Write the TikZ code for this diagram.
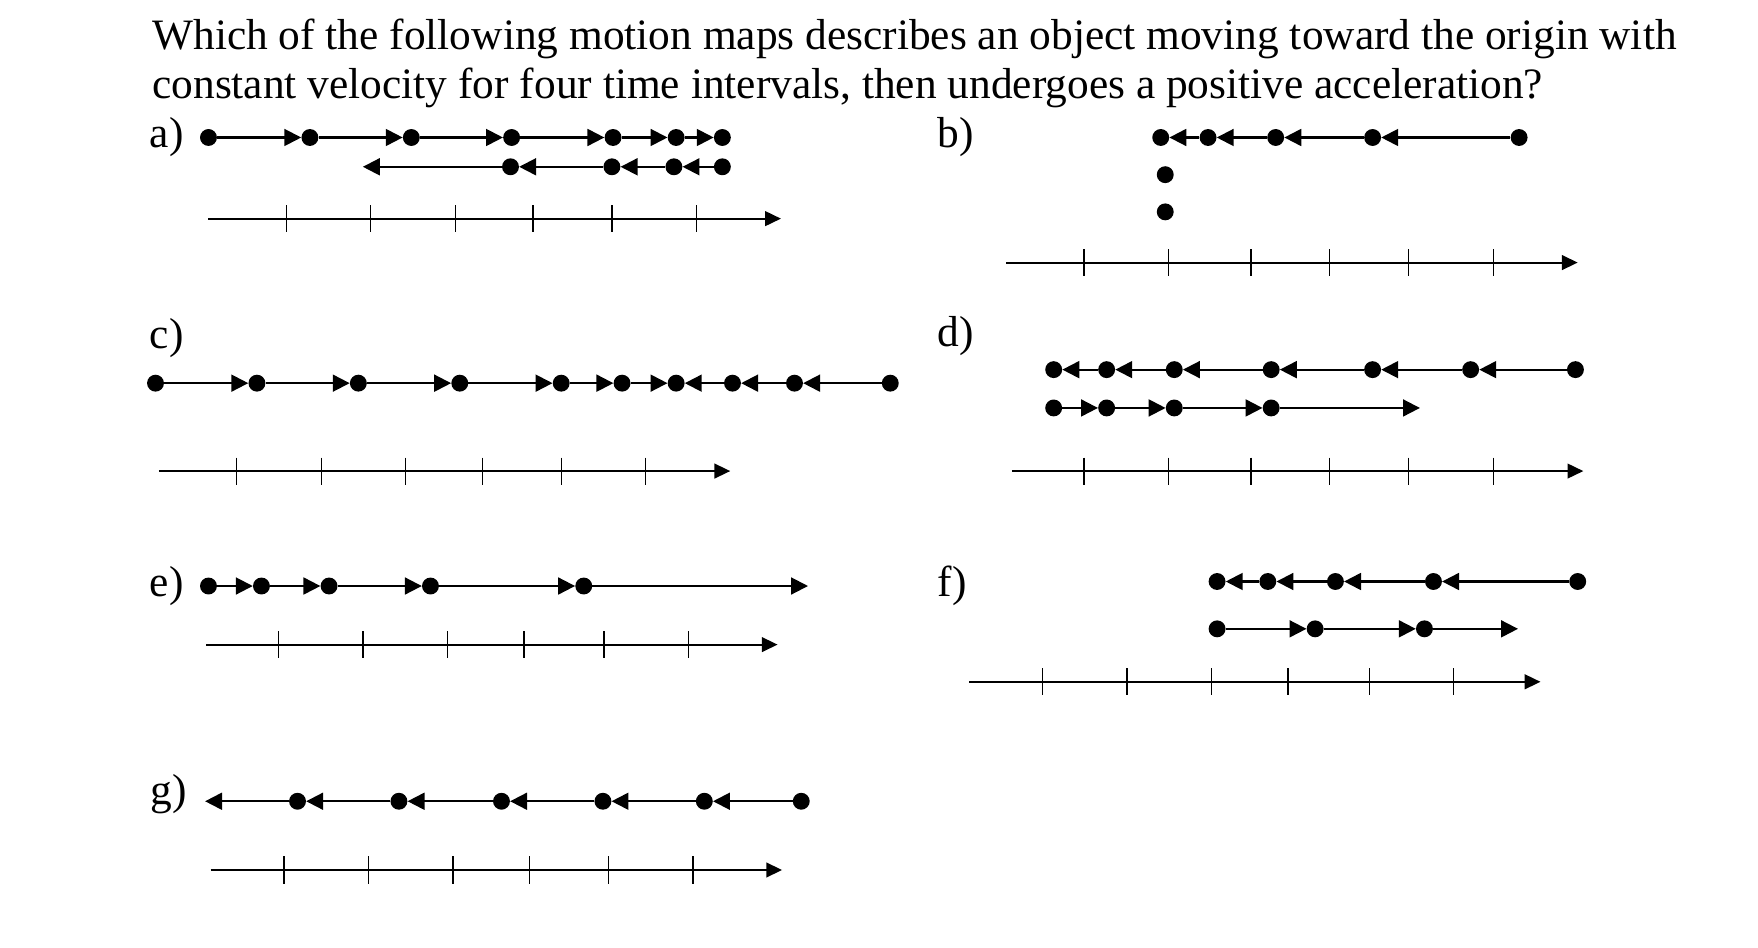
\documentclass[tikz,border=0pt]{standalone}
\usepackage{fontspec}
\setmainfont{Liberation Serif}
\usetikzlibrary{arrows.meta}
\begin{document}
\begin{tikzpicture}[x=1pt,y=-1pt,
  dot/.style={circle,fill=black,inner sep=0pt,minimum size=15pt},
  mv/.style={line width=1.8pt,-{Triangle[length=15pt,width=15pt]}},
  ax/.style={line width=1.8pt,-{Triangle[length=14pt,width=13pt]}},
  lbl/.style={font=\fontsize{38.5}{44}\selectfont,inner sep=0pt}]
\useasboundingbox (0,0) rectangle (1560,841);
\node[lbl,anchor=base west] (t1) at (135,44) {Which of the following motion maps describes an object moving toward the origin with};
\node[lbl,anchor=base west] (t2) at (135,87) {constant velocity for four time intervals, then undergoes a positive acceleration?};
\newcommand{\myaxis}[5]{%
  \coordinate (#1s) at (#3,#2); \coordinate (#1e) at (#4,#2);
  \draw[ax] (#1s) -- (#1e);
  \foreach \t in {#5} \draw[line width=1.2pt] (\t,#2-12) -- (\t,#2+12);}
% a
\node[lbl] (la) at (148,122) {a)};
\foreach \x [count=\i] in {185,275,365,454,544,600,641} \node[dot] (a\i) at (\x,122) {};
\foreach \i/\j in {1/2,2/3,3/4,4/5,5/6,6/7} \draw[mv] (a\i) -- (a\j);
\foreach \x [count=\i] in {453,543,598,641} \node[dot] (aa\i) at (\x,148) {};
\coordinate (aend) at (322,148);
\foreach \i/\j in {4/3,3/2,2/1} \draw[mv] (aa\i) -- (aa\j);
\draw[mv] (aa1) -- (aend);
\myaxis{axa}{194}{185}{693}{254,329,404,473,543,618}
% b
\node[lbl] (lb) at (848,122) {b)};
\foreach \x [count=\i] in {1030,1072,1132,1218,1348} \node[dot] (b\i) at (\x,122) {};
\foreach \i/\j in {5/4,4/3,3/2,2/1} \draw[mv] (b\i) -- (b\j);
\node[dot] (bb1) at (1034,155) {};
\node[dot] (bb2) at (1034,188) {};
\myaxis{axb}{233}{893}{1400}{962,1037,1110,1180,1250,1325}
% c
\node[lbl] (lc) at (148,300) {c)};
\foreach \x [count=\i] in {138,228,318,408,498,552,600,650,705,790} \node[dot] (c\i) at (\x,340) {};
\foreach \i/\j in {1/2,2/3,3/4,4/5,5/6,6/7,10/9,9/8,8/7} \draw[mv] (c\i) -- (c\j);
\myaxis{axc}{418}{141}{648}{210,285,360,428,498,573}
% d
\node[lbl] (ld) at (848,298) {d)};
\foreach \x [count=\i] in {935,982,1042,1128,1218,1305,1398} \node[dot] (d\i) at (\x,328) {};
\foreach \i/\j in {7/6,6/5,5/4,4/3,3/2,2/1} \draw[mv] (d\i) -- (d\j);
\foreach \x [count=\i] in {935,982,1042,1128} \node[dot] (dd\i) at (\x,362) {};
\foreach \i/\j in {1/2,2/3,3/4} \draw[mv] (dd\i) -- (dd\j);
\coordinate (dend) at (1260,362);
\draw[mv] (dd4) -- (dend);
\myaxis{axd}{418}{898}{1405}{962,1037,1110,1180,1250,1325}
% e
\node[lbl] (le) at (148,520) {e)};
\foreach \x [count=\i] in {185,232,292,382,518} \node[dot] (e\i) at (\x,520) {};
\foreach \i/\j in {1/2,2/3,3/4,4/5} \draw[mv] (e\i) -- (e\j);
\coordinate (eend) at (717,520);
\draw[mv] (e5) -- (eend);
\myaxis{axe}{572}{183}{690}{247,322,397,465,536,611}
% f
\node[lbl] (lf) at (845,520) {f)};
\foreach \x [count=\i] in {1080,1125,1185,1272,1400} \node[dot] (f\i) at (\x,516) {};
\foreach \i/\j in {5/4,4/3,3/2,2/1} \draw[mv] (f\i) -- (f\j);
\foreach \x [count=\i] in {1080,1167,1264} \node[dot] (ff\i) at (\x,558) {};
\foreach \i/\j in {1/2,2/3} \draw[mv] (ff\i) -- (ff\j);
\coordinate (fend) at (1347,558);
\draw[mv] (ff3) -- (fend);
\myaxis{axf}{605}{860}{1367}{925,1000,1075,1143,1215,1290}
% g
\node[lbl] (lg) at (150,705) {g)};
\foreach \x [count=\i] in {264,354,445,535,625,711} \node[dot] (g\i) at (\x,711) {};
\foreach \i/\j in {6/5,5/4,4/3,3/2,2/1} \draw[mv] (g\i) -- (g\j);
\coordinate (gend) at (182,711);
\draw[mv] (g1) -- (gend);
\myaxis{axg}{772}{187}{694}{252,327,402,470,540,615}
\end{tikzpicture}
\end{document}
